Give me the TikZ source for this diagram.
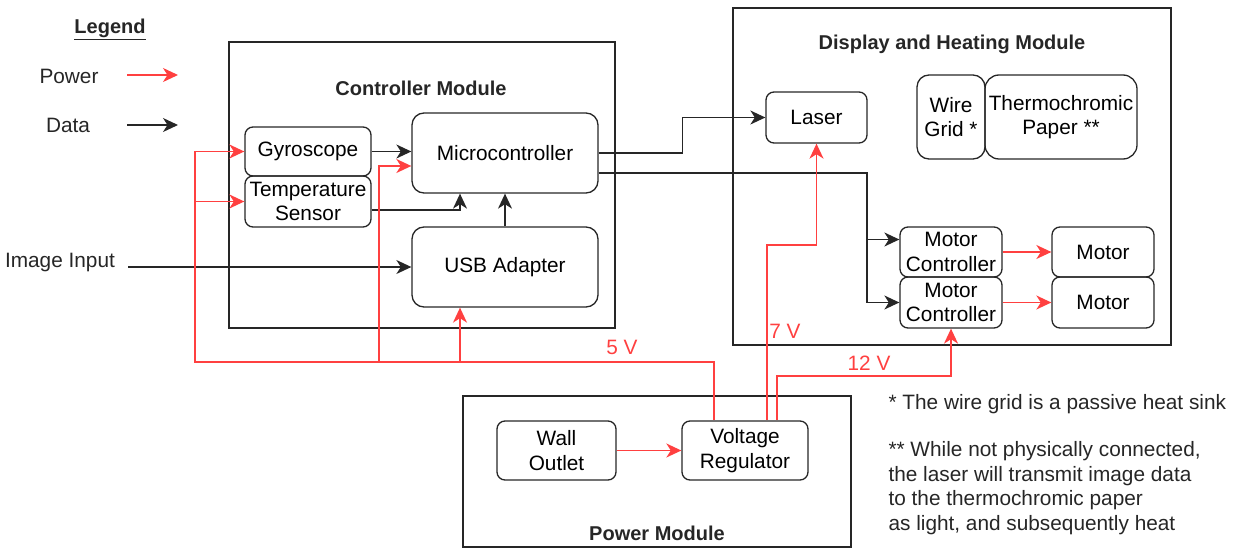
\documentclass[tikz,border=0pt]{standalone}
\usepackage{fontspec}
\setmainfont{Liberation Sans}
\usetikzlibrary{arrows.meta}
\definecolor{pwrred}{HTML}{FF4040}
\begin{document}
\begin{tikzpicture}[x=1pt,y=-1pt,
  every node/.style={font=\fontsize{20.8}{24.5}\selectfont},
  blk/.style={draw=black!85, line width=1.3pt, rounded corners=8pt, inner sep=0pt, align=center},
  module/.style={draw=black!85, line width=1.3pt},
  ttl/.style={font=\fontsize{20}{24}\selectfont\bfseries, text=black!85},
  tip/.style={-{Stealth[length=15pt,width=14pt,inset=4.5pt]}},
  data/.style={tip, draw=black!85, line width=1.4pt},
  pwr/.style={tip, draw=pwrred, line width=1.7pt},
  vlab/.style={text=pwrred},
  lbl/.style={text=black!85}]
\useasboundingbox (0,0) rectangle (1234,548);

% modules
\draw[module] (229,42) rectangle (615,328);
\draw[module] (733,8) rectangle (1171,345);
\draw[module] (463,396) rectangle (851,547);
\node[ttl] (tctrl) at (421,88) {Controller Module};
\node[ttl] (tdisp) at (952,44) {Display and Heating Module};
\node[ttl] (tpwr) at (657,533) {Power Module};

% legend
\node[ttl] (leg) at (110,29) {\underline{Legend}};
\node[lbl] (lpow) at (69,76) {Power};
\node[lbl] (ldat) at (68,125) {Data};
\coordinate (lp1) at (127,75); \coordinate (lp2) at (178,75);
\coordinate (ld1) at (127,125); \coordinate (ld2) at (178,125);
\draw[pwr] (lp1) -- (lp2);
\draw[data] (ld1) -- (ld2);

% controller blocks
\node[blk, minimum width=126pt, minimum height=49pt] (gyro) at (308,151.5) {Gyroscope};
\node[blk, minimum width=126pt, minimum height=51pt] (temp) at (308,201.5) {Temperature\\Sensor};
\node[blk, rounded corners=12pt, minimum width=186pt, minimum height=80pt] (micro) at (505,153) {Microcontroller};
\node[blk, rounded corners=12pt, minimum width=186pt, minimum height=80pt] (usb) at (505,267) {USB Adapter};

% display blocks
\node[blk, minimum width=101pt, minimum height=51pt] (laser) at (816.5,117.5) {Laser};
\node[blk, rounded corners=12pt, minimum width=68pt, minimum height=84pt] (wire) at (951,117) {Wire\\Grid *};
\node[blk, rounded corners=14pt, minimum width=152pt, minimum height=84pt] (paper) at (1061,117) {Thermochromic\\Paper **};
\node[blk, minimum width=102pt, minimum height=50pt] (mc1) at (951,252) {Motor\\Controller};
\node[blk, minimum width=102pt, minimum height=51pt] (mc2) at (951,302.5) {Motor\\Controller};
\node[blk, minimum width=102pt, minimum height=50pt] (mot1) at (1103,252) {Motor};
\node[blk, minimum width=102pt, minimum height=51pt] (mot2) at (1103,302.5) {Motor};

% power blocks
\node[blk, minimum width=119pt, minimum height=59pt] (wall) at (556.5,450.5) {Wall\\Outlet};
\node[blk, minimum width=126pt, minimum height=59pt] (vreg) at (745,450.5) {Voltage\\Regulator};

% image input
\node[lbl] (imgin) at (60,263) {Image Input};
\coordinate (imgstart) at (128,267);
\draw[data] (imgstart) -- (usb.west);

% data connectors
\draw[data] (gyro.east) -- (gyro.east -| micro.west);
\draw[data] ([yshift=-8.5pt]temp.east) -| ([xshift=-45pt]micro.south);
\draw[data] (usb.north) -- (micro.south);
\draw[data] (micro.east) -- ++(84,0) |- (laser.west);
\coordinate (bend) at (867,173);
\draw[data] ([yshift=-20pt]micro.east) -- (bend) |- (mc2.west);
\path ([yshift=12.5pt]mc1.west) coordinate (mc1in);
\draw[data] (mc1in -| bend) -- (mc1in);

% power connectors
\draw[pwr] (mc1.east) -- (mot1.west);
\draw[pwr] (mc2.east) -- (mot2.west);
\draw[pwr] (wall.east) -- (vreg.west);
\coordinate (busL) at (195,362);
\draw[pwr] ([xshift=-31pt]vreg.north) |- (busL) |- (gyro.west);
\draw[pwr] (temp.west -| busL) -- (temp.west);
\coordinate (busM) at (379,362);
\draw[pwr] (busM) |- ([yshift=-13pt]micro.west);
\draw[pwr] ([xshift=-45pt]usb.south |- busL) -- ([xshift=-45pt]usb.south);
\draw[pwr] ([xshift=22pt]vreg.north) |- ([yshift=-101pt]laser.south) -- (laser.south);
\draw[pwr] ([xshift=32pt]vreg.north) |- ([yshift=-47pt]mc2.south) -- (mc2.south);

% voltage labels
\node[vlab] (v5) at (622,347) {5 V};
\node[vlab] (v7) at (785,331) {7 V};
\node[vlab] (v12) at (869,363) {12 V};

% notes
\node[lbl, anchor=west] (note1) at (885,404) {* The wire grid is a passive heat sink};
\node[lbl, anchor=west, align=left] (note2) at (885,488) {** While not physically connected,\\the laser will transmit image data\\to the thermochromic paper\\as light, and subsequently heat};
\end{tikzpicture}
\end{document}
